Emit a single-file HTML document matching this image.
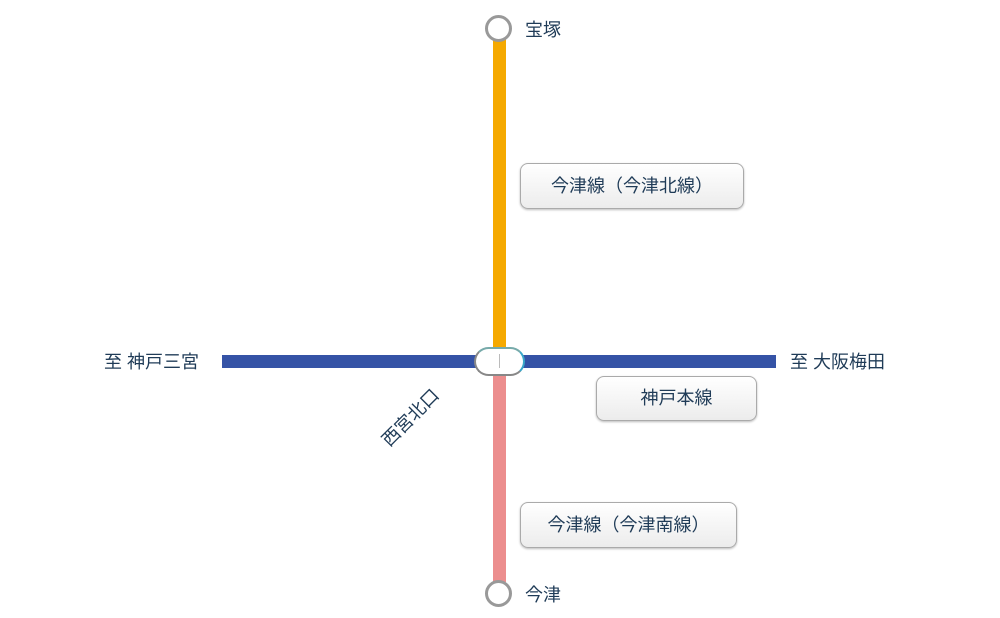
<!DOCTYPE html>
<html><head><meta charset="utf-8"><style>
body{margin:0;width:1000px;height:618px;background:#fff;position:relative;overflow:hidden;font-family:"Liberation Sans","Noto Sans CJK JP",sans-serif;color:#1f3b57}
div{position:absolute}
.box{border:1px solid #aaa;border-radius:8px;background:linear-gradient(#fff,#ececec);box-shadow:0 1px 2px #bbb;font-size:18px;text-align:center;box-sizing:border-box}
.t{font-size:18px;white-space:nowrap;line-height:20px}
.c{width:27px;height:27px;border:3px solid #999;border-radius:50%;background:#fff;box-sizing:border-box}
</style></head><body>
<div style="left:493px;top:38px;width:13px;height:316px;background:#f5a900"></div>
<div style="left:493px;top:370px;width:13px;height:212px;background:#ec8e8e"></div>
<div style="left:222px;top:355px;width:554px;height:13px;background:#3553a6"></div>
<div class="c" style="left:485px;top:15px"></div>
<div class="c" style="left:485px;top:580px"></div>
<div style="left:474px;top:347px;width:51px;height:29px;border-radius:15px;background:#fff;border:2px solid #888;border-right-color:#3aa7c9;border-top-color:#7aa;box-sizing:border-box"></div>
<div style="left:499px;top:354px;width:1px;height:14px;background:#bbb"></div>
<div class="t" style="left:525px;top:20px">宝塚</div>
<div class="t" style="left:525px;top:585px">今津</div>
<div class="t" style="left:104px;top:352px">至 神戸三宮</div>
<div class="t" style="left:790px;top:352px">至 大阪梅田</div>
<div class="t" style="transform:rotate(-45deg);transform-origin:left top;left:378px;top:436px">西宮北口</div>
<div class="box" style="left:520px;top:163px;width:224px;height:46px;line-height:44px">今津線（今津北線）</div>
<div class="box" style="left:596px;top:376px;width:161px;height:45px;line-height:43px">神戸本線</div>
<div class="box" style="left:520px;top:502px;width:217px;height:46px;line-height:44px">今津線（今津南線）</div>
</body></html>
